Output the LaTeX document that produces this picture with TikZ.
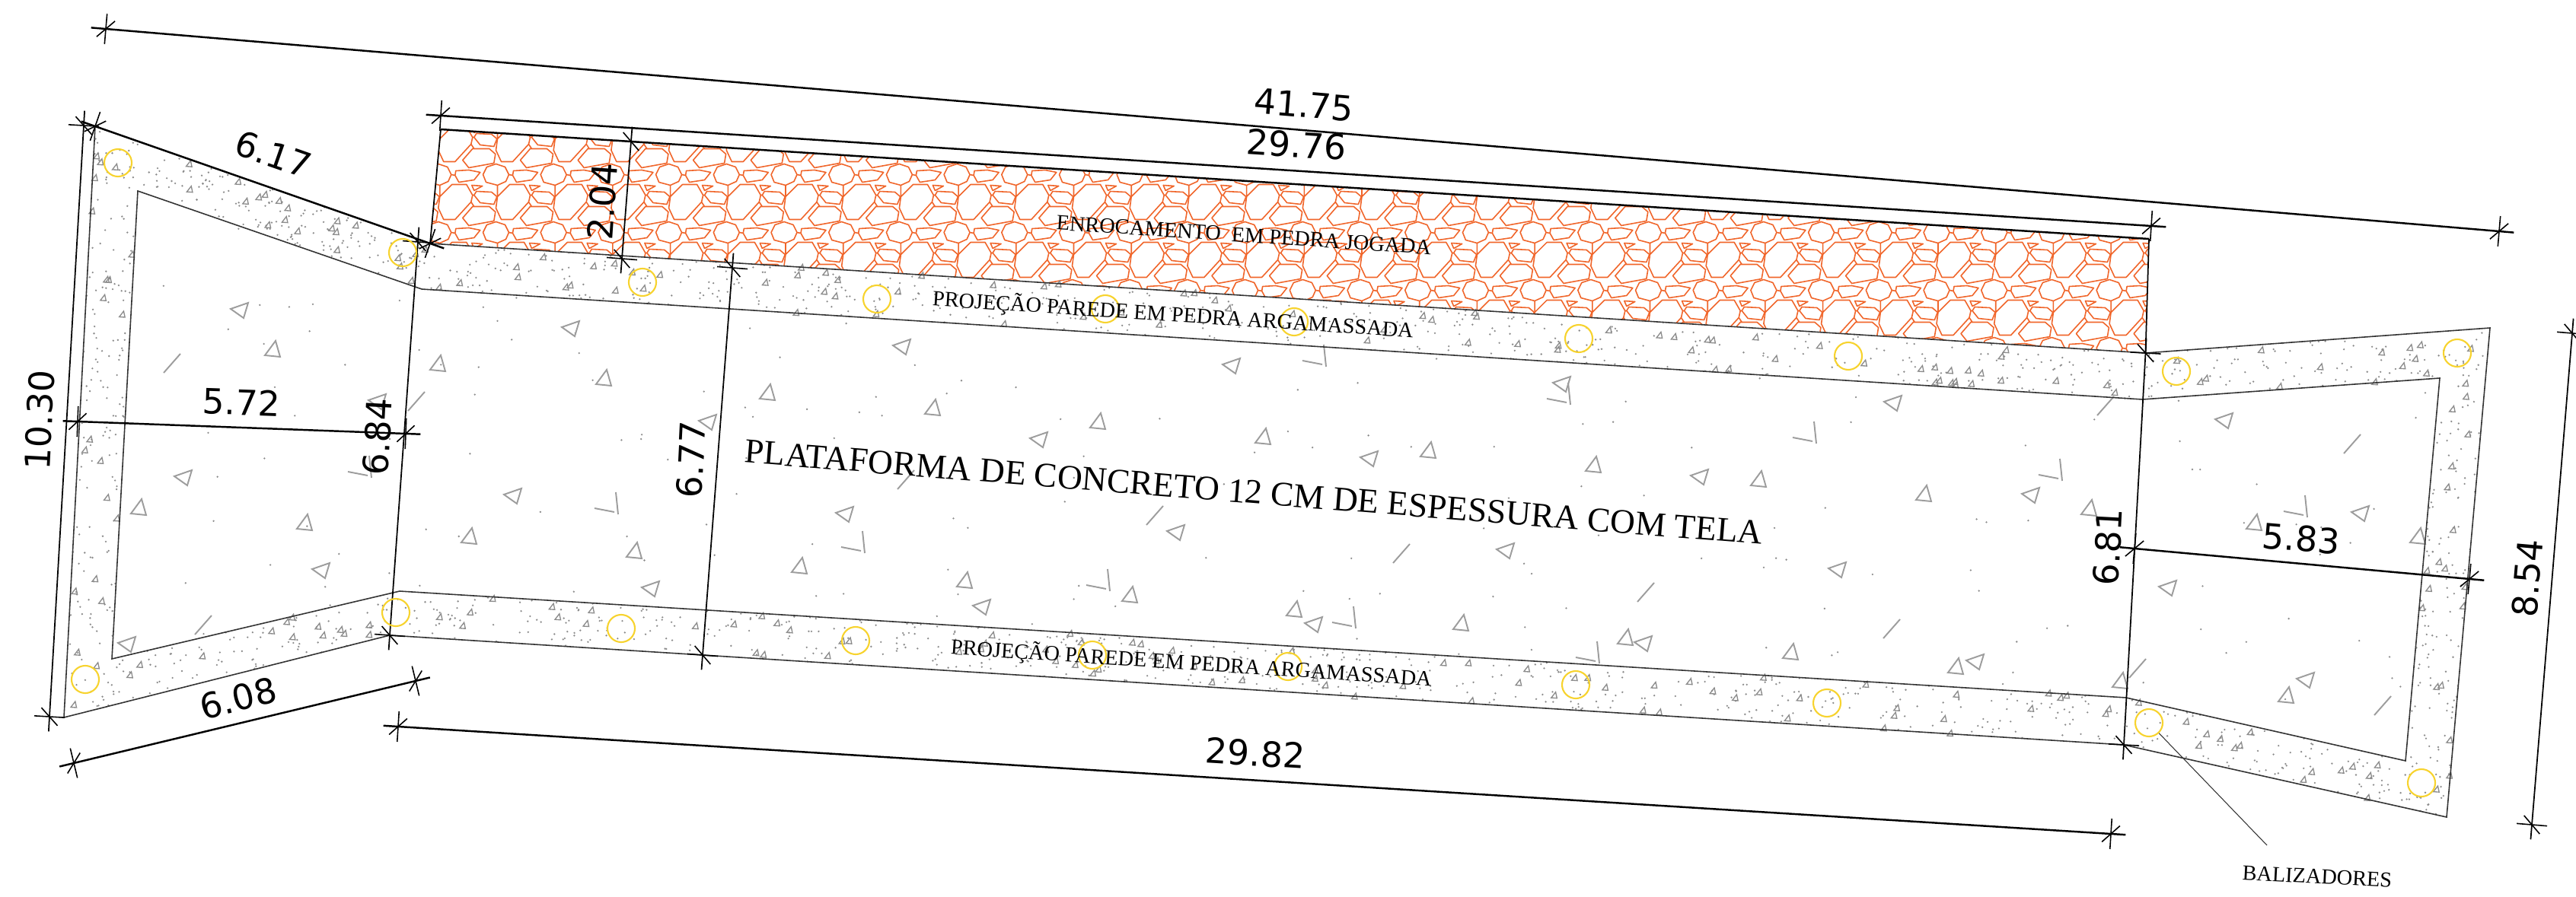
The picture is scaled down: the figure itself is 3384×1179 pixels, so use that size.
\documentclass[tikz,border=0pt]{standalone}
\usepackage{fontspec}
\usepackage{tikz}
\usetikzlibrary{calc}
\setmainfont{Liberation Serif}
\newfontfamily\dimfont{DejaVu Sans}
\definecolor{rockorange}{HTML}{F0652A}
\definecolor{baliza}{HTML}{F7D32E}
\definecolor{hatchgray}{HTML}{8C8C8C}
\tikzset{
  wall/.style={draw=black!80,line width=0.45pt},
  stone/.style={draw=rockorange,line width=0.45pt,line join=round},
  dimthick/.style={line width=0.7pt},
  dimthin/.style={line width=0.5pt},
  dimtick/.style={line width=0.45pt},
  dimlabel/.style={font=\dimfont\fontsize{13}{15}\selectfont,inner sep=0pt},
  noteA/.style={font=\fontsize{8.05}{10}\selectfont,inner sep=0pt},
  noteB/.style={font=\fontsize{12.9}{15}\selectfont,inner sep=0pt},
  balizador/.style={circle,draw=baliza,line width=0.6pt,minimum size=0.36cm,inner sep=0pt},
  hatchbig/.style={draw=hatchgray!85,line width=0.55pt},
  hatchsmall/.style={draw=hatchgray,line width=0.38pt},
  hatchdot/.style={fill=hatchgray}
}
\newcommand{\dimline}[3][dimthick]{%
  \draw[#1] ($(#2)!-5.5pt!(#3)$) -- ($(#3)!-5.5pt!(#2)$);
  \draw[dimtick] ($(#2)!5.7pt!90:(#3)$) -- ($(#2)!5.7pt!-90:(#3)$);
  \draw[dimtick] ($(#2)!4.5pt!45:(#3)$) -- ($(#2)!4.5pt!225:(#3)$);
  \draw[dimtick] ($(#3)!5.7pt!90:(#2)$) -- ($(#3)!5.7pt!-90:(#2)$);
  \draw[dimtick] ($(#3)!4.5pt!45:(#2)$) -- ($(#3)!4.5pt!225:(#2)$);
}
\newcommand{\stipple}[6]{%
  \foreach \k in {1,...,#5} {
    \pgfmathsetmacro{\su}{rnd}
    \pgfmathsetmacro{\sv}{rnd}
    \coordinate (g) at ($($(#1)!\su!(#2)$)!\sv!($(#4)!\su!(#3)$)$);
    \pgfmathtruncatemacro{\sm}{mod(\k,#6)}
    \pgfmathtruncatemacro{\sd}{mod(\k,4*#6)}
    \ifnum\sm=0
      \draw[hatchsmall] (g) ++(-3.5,3.5) -- ++(7.5,0.5) -- ++(-1.7,-8) -- cycle;
    \else\ifnum\sd=#6
      \draw[hatchsmall] (g) ++(-3,4) -- ++(5,-7);
    \else
      \fill[hatchdot] (g) circle (1.3);
    \fi\fi
  }
}

\begin{document}
\begin{tikzpicture}[x=0.01cm,y=-0.01cm]
  \useasboundingbox (0,0) rectangle (3384,1179);
  \pgfmathsetseed{4127}

  % left wing
  \coordinate (l0) at (125,166);
  \coordinate (l1) at (565,320);
  \coordinate (l2) at (512,835);
  \coordinate (l3) at (84,943);
  \coordinate (m0) at (181,251);
  \coordinate (m1) at (554,380);
  \coordinate (m2) at (525,777);
  \coordinate (m3) at (147,866);

  % right wing
  \coordinate (r0) at (2818.5,464);
  \coordinate (r1) at (3271,431);
  \coordinate (r2) at (3214,1074);
  \coordinate (r3) at (2790,979);
  \coordinate (s0) at (2814.5,525);
  \coordinate (s1) at (3205,497);
  \coordinate (s2) at (3160,1000);
  \coordinate (s3) at (2793,917);

  % rock fill
  \coordinate (q0) at (579,170);
  \coordinate (q1) at (2823,314);
  \begin{scope}
    \clip (q0) -- (q1) -- (r0) -- (l1) -- cycle;
    \foreach \i in {-7,...,24} {
      \foreach \j in {-1,...,3} {
        \draw[stone,shift={({1030+75.7*\i},{229.5+76*\j})}]
          (0,-14) -- (12,-10) -- (17,0) -- (13,9) -- (2,14) -- (-13,10) -- (-17,0) -- (-12,-10) -- cycle
          (23,-5) -- (40,-6) -- (55,-3) -- (47,7) -- (27,10) -- (22,1) -- cycle
          (18,13) -- (37,13) -- (45,27) -- (43,36) -- (22,59) -- (7,59) -- (0,44) -- (2,29) -- cycle
          (44,14) -- (58,15) -- (47,21) -- cycle
          (50,22) -- (70,23) -- (77,29) -- (73,39) -- (55,37) -- (47,27) -- cycle
          (45,42) -- (67,42) -- (75,49) -- (73,61) -- (40,67) -- (32,57) -- cycle
          (2,14) -- (2,29) (17,0) -- (22,1) (45,27) -- (47,27) (43,36) -- (47,42);
      }
    }
  \end{scope}

  % concrete texture
  \stipple{l1}{r0}{s0}{m1}{600}{8}
  \stipple{m2}{s3}{r3}{l2}{600}{8}
  \stipple{l0}{l1}{m1}{m0}{170}{8}
  \stipple{l0}{m0}{m3}{l3}{170}{8}
  \stipple{m3}{m2}{l2}{l3}{110}{8}
  \stipple{r0}{r1}{s1}{s0}{110}{8}
  \stipple{s1}{r1}{r2}{s2}{160}{8}
  \stipple{s3}{s2}{r2}{r3}{125}{8}
  \stipple{m1}{s0}{s3}{m2}{120}{4000}
  \stipple{m0}{m1}{m2}{m3}{25}{4000}
  \stipple{s0}{s1}{s2}{s3}{25}{4000}

  \foreach \px/\py in {314/408,240/628,421/750,166/847,495/528,673/652,854/774,749/432,
    929/555,1184/456,1617/481,1364/578,1798/603,1109/676,1544/700,1289/798,1725/821,
    2051/505,2486/530,2232/627,2667/651,1977/724,2413/749,2158/846,2594/870,
    2921/553,3100/675,2847/773,3028/894}
    \draw[hatchbig,shift={(\px,\py)}] (-11,-2) -- (12,-10) -- (6,10) -- cycle;

  \foreach \px/\py in {358/459,182/667,400/687,575/478,793/497,616/705,833/724,1008/516,
    1225/536,1442/554,1659/574,1876/592,1050/744,1267/763,1484/782,1700/801,
    2093/611,2310/630,2527/649,2744/668,1919/819,2135/838,2352/857,2569/876,2785/895,
    2961/687,3176/705,3003/914}
    \draw[hatchbig,shift={(\px,\py)}] (4,-11) -- (-10,8) -- (10,10) -- cycle;

  \foreach \px/\py in {488/628,812/676,1136/727,1458/777,1742/482,1781/826,2063/532,
    2386/583,2709/632,2101/872,3031/680}
    \draw[hatchbig,shift={(\px,\py)}] (-3,-29) -- (0,0) (-31,-8) -- (-5,-3);

  \foreach \px/\py in {226/478,267/822,547/528,1190/631,1517/678,1841/728,2162/779,
    2485/827,2766/534,2808/879,3090/584,3130/928}
    \draw[hatchbig,shift={(\px,\py)}] (-11,12) -- (11,-13);

  % outlines
  \draw[wall] (l0) -- (l1) -- (r0) -- (r1) -- (r2) -- (r3) -- (l2) -- (l3) -- cycle;
  \draw[wall] (m0) -- (m1) -- (s0) -- (s1) -- (s2) -- (s3) -- (m2) -- (m3) -- cycle;
  \draw[dimthin] (q0) -- (l1);
  \draw[dimthin] (q1) -- (r0);
  \draw[dimthick] (q0) -- (q1);

  % dimensions
  \coordinate (a0) at (139,38);
  \coordinate (a1) at (3283,304);
  \coordinate (b0) at (579,152);
  \coordinate (b1) at (2826,297);
  \coordinate (c0) at (829,186);
  \coordinate (c1) at (817,340);
  \coordinate (e0) at (110,165);
  \coordinate (e1) at (65,942);
  \coordinate (f0) at (102,554);
  \coordinate (f1) at (533,570);
  \coordinate (h0) at (549,318);
  \coordinate (i0) at (962,352);
  \coordinate (i1) at (923,861);
  \coordinate (j0) at (97,1003);
  \coordinate (j1) at (546,895);
  \coordinate (k0) at (523,955);
  \coordinate (k1) at (2773,1096);
  \coordinate (n0) at (2804,721);
  \coordinate (n1) at (3244,761);
  \coordinate (o0) at (3379,438);
  \coordinate (o1) at (3326,1084);

  \dimline{a0}{a1}
  \dimline{b0}{b1}
  \dimline[dimthin]{c0}{c1}
  \dimline[dimthin]{e0}{e1}
  \dimline{f0}{f1}
  \dimline{l0}{l1}
  \dimline[dimthin]{h0}{l2}
  \dimline[dimthin]{i0}{i1}
  \dimline{j0}{j1}
  \dimline{k0}{k1}
  \dimline[dimthin]{r0}{r3}
  \dimline{n0}{n1}
  \dimline[dimthin]{o0}{o1}

  \node [dimlabel,rotate=-4.8] (t4175) at (1713,138) {41.75};
  \node [dimlabel,rotate=-3.7] (t2976) at (1703,190) {29.76};
  \node [dimlabel,rotate=-19.3] (t617) at (359,203) {6.17};
  \node [dimlabel,rotate=86] (t204) at (791,265) {2.04};
  \node [dimlabel,rotate=-2] (t572) at (317,529) {5.72};
  \node [dimlabel,rotate=87] (t1030) at (52,552) {10.30};
  \node [dimlabel,rotate=87] (t684) at (496,574) {6.84};
  \node [dimlabel,rotate=87] (t677) at (908,604) {6.77};
  \node [dimlabel,rotate=14] (t608) at (313,918) {6.08};
  \node [dimlabel,rotate=-3.5] (t2982) at (1649,990) {29.82};
  \node [dimlabel,rotate=87] (t681) at (2769,719) {6.81};
  \node [dimlabel,rotate=-5] (t583) at (3023,708) {5.83};
  \node [dimlabel,rotate=85] (t854) at (3320,760) {8.54};

  % balizadores
  \foreach \px/\py [count=\n] in {155/214,529/332,844/371,1152/393,1452/406,1700/423,
    2074/445,2428/468,2859/488,3228/464,112/893,520/805,816/826,1124/842,1435/861,
    1692/876,2070/900,2400/924,2823/950,3181/1029}
    \node [balizador] (b\n) at (\px,\py) {};

  \node [noteA,rotate=-3.8] (tenroc) at (1634,309) {ENROCAMENTO\ \ EM PEDRA JOGADA};
  \node [noteA,rotate=-3.8] (tproj0) at (1541,414) {PROJEÇÃO PAREDE EM PEDRA ARGAMASSADA};
  \node [noteA,rotate=-3.8] (tproj1) at (1565,872) {PROJEÇÃO PAREDE EM PEDRA ARGAMASSADA};
  \node [noteB,rotate=-4.6] (tplat) at (1647,647) {PLATAFORMA DE CONCRETO 12 CM DE ESPESSURA COM TELA};
  \node [noteA,rotate=-3] (tbal) at (3044,1152) {BALIZADORES};

  \coordinate (lead) at (2978,1111);
  \draw [line width=0.3pt,black!80] (b19) -- (lead);
\end{tikzpicture}
\end{document}
